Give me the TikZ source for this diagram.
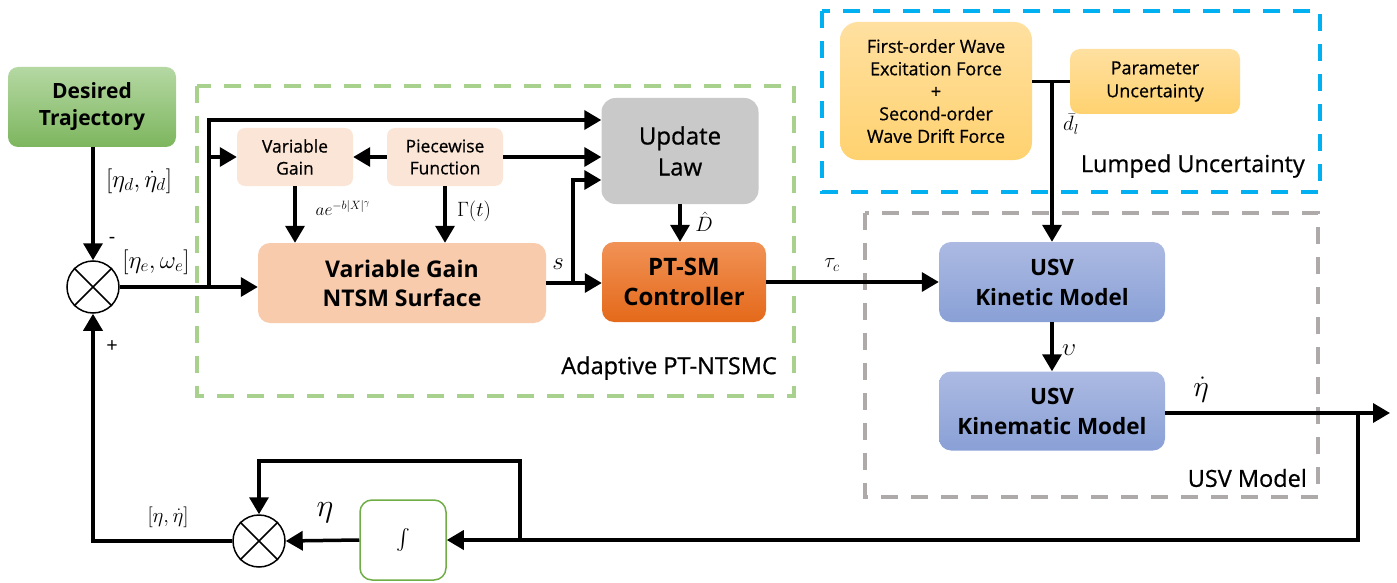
\documentclass[tikz,border=0pt]{standalone}
\usepackage{exscale}
\usepackage{fontspec}
\setmainfont{Open Sans}
\newfontfamily\medf{Open Sans}[FakeBold=0.7]
\usetikzlibrary{arrows.meta}
\definecolor{grdash}{RGB}{169,209,142}
\definecolor{bldash}{RGB}{0,176,240}
\definecolor{gydash}{RGB}{174,170,170}
\definecolor{peachlt}{RGB}{251,229,214}
\definecolor{peach}{RGB}{248,203,173}
\definecolor{ulgray}{RGB}{201,201,201}
\definecolor{intgreen}{RGB}{112,173,71}
\newcommand\myfs[2]{\fontsize{#1}{#2}\selectfont}
\tikzset{
  blk/.style={rounded corners=10pt, align=center, inner sep=0pt, text=black},
  arr/.style={line width=3.5pt, -{Triangle[length=17pt,width=19pt]}},
  ln/.style={line width=3.5pt},
  grp/.style={line width=4pt, dash pattern=on 17pt off 13pt},
  sumc/.style={circle, draw, line width=1.5pt, minimum size=52pt, inner sep=0pt, fill=white},
  lbl/.style={inner sep=0pt, text=black},
}
\begin{document}
\begin{tikzpicture}[x=1pt,y=-1pt]
\useasboundingbox (0,0) rectangle (1397,583);
% group boxes
\draw[grp, grdash] (197,86) rectangle (794,396);
\draw[grp, bldash] (822,11) rectangle (1320,192);
\draw[grp, gydash] (865,213) rectangle (1318,497);

% blocks
\node[blk, minimum width=168pt, minimum height=80pt, top color={rgb,255:red,181;green,216;blue,163}, bottom color={rgb,255:red,125;green,182;blue,94}, font=\myfs{21}{27}\bfseries] (dt) at (92,107) {Desired\\Trajectory};
\node[sumc] (s1) at (93,287) {};
\draw[line width=1.5pt] (s1.north west) -- (s1.south east) (s1.north east) -- (s1.south west);

\node[blk, rounded corners=8pt, minimum width=116pt, minimum height=58pt, fill=peachlt, font=\medf\myfs{17.5}{22}] (vg) at (295,157) {Variable\\Gain};
\node[blk, rounded corners=8pt, minimum width=116pt, minimum height=58pt, fill=peachlt, font=\medf\myfs{17.5}{22}] (pf) at (445,157) {Piecewise\\Function};
\node[blk, rounded corners=14pt, minimum width=157pt, minimum height=106pt, fill=ulgray, font=\medf\myfs{24}{31}] (ul) at (680,151) {Update\\Law};
\node[blk, rounded corners=12pt, minimum width=288pt, minimum height=80pt, fill=peach, font=\myfs{23}{29}\bfseries] (vgs) at (402,283) {Variable Gain\\NTSM Surface};
\node[blk, rounded corners=12pt, minimum width=164pt, minimum height=80pt, top color={rgb,255:red,241;green,146;blue,86}, bottom color={rgb,255:red,228;green,105;blue,26}, font=\myfs{24}{30}\bfseries] (pt) at (684,282) {PT-SM\\Controller};

\node[blk, rounded corners=18pt, minimum width=192pt, minimum height=138pt, top color={rgb,255:red,255;green,224;blue,160}, bottom color={rgb,255:red,255;green,210;blue,112}, font=\medf\myfs{18}{22.5}] (fo) at (936,91) {First-order Wave\\Excitation Force\\+\\Second-order\\Wave Drift Force};
\node[blk, rounded corners=10pt, minimum width=170pt, minimum height=65pt, top color={rgb,255:red,255;green,224;blue,160}, bottom color={rgb,255:red,255;green,210;blue,112}, font=\medf\myfs{18}{23}] (pu) at (1155,81.5) {Parameter\\Uncertainty};

\node[blk, rounded corners=12pt, minimum width=226pt, minimum height=80pt, top color={rgb,255:red,172;green,186;blue,226}, bottom color={rgb,255:red,137;green,160;blue,214}, font=\myfs{22.5}{30}\bfseries] (kin) at (1052,282) {USV\\Kinetic Model};
\node[blk, rounded corners=12pt, minimum width=226pt, minimum height=79pt, top color={rgb,255:red,172;green,186;blue,226}, bottom color={rgb,255:red,137;green,160;blue,214}, font=\myfs{22.5}{30}\bfseries] (kmt) at (1052,411) {USV\\Kinematic Model};

\node[blk, rounded corners=12pt, minimum width=86pt, minimum height=80pt, fill=white, draw=intgreen, line width=1.5pt, font=\myfs{21}{21}] (int) at (403,540) {$\int$};
\node[sumc] (s2) at (259,541) {};
\draw[line width=1.5pt] (s2.north west) -- (s2.south east) (s2.north east) -- (s2.south west);

% coordinates
\coordinate (b1) at (209,287);
\coordinate (b2) at (573,283);
\coordinate (b3) at (1358,413);
\coordinate (out) at (1390,413);
\coordinate (b4) at (520,540);
\coordinate (c4) at (520,461);

% connectors
\draw[arr] (dt.south -| s1.north) -- (s1.north);
\draw[arr] (s1.east) -- (s1.east -| vgs.west);
\draw[arr] (b1) |- ([yshift=31pt]ul.west);
\draw[arr] (b1 |- vg.west) -- (vg.west);
\draw[arr] (pf.west) -- (vg.east);
\draw[arr] (pf.east) -- (pf.east -| ul.west);
\draw[arr] (vg.south) -- (vg.south |- vgs.north);
\draw[arr] (pf.south) -- (pf.south |- vgs.north);
\draw[arr] (vgs.east) -- (vgs.east -| pt.west);
\draw[arr] (b2) |- ([yshift=-29pt]ul.west);
\draw[arr] (ul.south) -- (ul.south |- pt.north);
\draw[arr] (pt.east) -- (kin.west);
\draw[ln] (pu.west -| fo.east) -- (pu.west);
\draw[arr] (pu.west -| kin.north) -- (kin.north);
\draw[arr] (kin.south) -- (kmt.north);
\draw[arr] (kmt.east |- out) -- (out);
\draw[arr] (b3) |- (int.east);
\draw[arr] (b4) -- (c4) -| (s2.north);
\draw[arr] (int.west) -- (s2.east);
\draw[arr] (s2.west) -| (s1.south);

% labels
\node[lbl, font=\myfs{25}{25}] (ld) at (139,181) {$[\eta_d,\dot\eta_d]$};
\node[lbl, font=\myfs{20}{20}] (lminus) at (112,240) {-};
\node[lbl, font=\myfs{20}{20}] (lplus) at (112,347) {+};
\node[lbl, font=\myfs{25}{25}] (le) at (156,262) {$[\eta_e,\omega_e]$};
\node[lbl, font=\myfs{18}{18}] (lae) at (343,208) {$ae^{-b|X|^{\gamma}}$};
\node[lbl, font=\myfs{21}{21}] (lgam) at (474,211) {$\Gamma(t)$};
\node[lbl, font=\myfs{25}{25}] (ls) at (558,264) {$s$};
\node[lbl, font=\myfs{20}{20}] (lD) at (704,222) {$\hat D$};
\node[lbl, font=\myfs{21}{21}] (ltau) at (832,265) {$\tau_c$};
\node[lbl, font=\myfs{20}{20}] (ldl) at (1071,124) {$\bar d_l$};
\node[lbl, font=\myfs{25}{25}] (lups) at (1069,350) {$\upsilon$};
\node[lbl, font=\myfs{25}{25}, scale=1.2] (letad) at (1201,390) {$\dot\eta$};
\node[lbl, font=\myfs{25}{25}, scale=1.3] (leta) at (325,513) {$\eta$};
\node[lbl, font=\myfs{20}{20}] (letaw) at (168,517) {$[\eta,\dot\eta]$};

\node[lbl, font=\medf\myfs{23.5}{24}, anchor=east] (ladapt) at (777,368) {Adaptive PT-NTSMC};
\node[lbl, font=\medf\myfs{23.5}{24}, anchor=east] (llump) at (1305,166) {Lumped Uncertainty};
\node[lbl, font=\medf\myfs{23.5}{24}, anchor=east] (lusv) at (1307,478) {USV Model};
\end{tikzpicture}
\end{document}
